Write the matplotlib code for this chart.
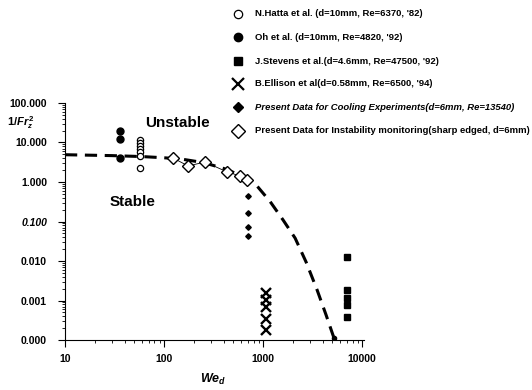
import numpy as np
import matplotlib
matplotlib.use('Agg')
import matplotlib.pyplot as plt
from matplotlib.ticker import FixedLocator, LogLocator, NullFormatter

plt.rcParams['font.family'] = ['Liberation Sans', 'DejaVu Sans']
plt.rcParams['mathtext.fontset'] = 'custom'
plt.rcParams['mathtext.rm'] = 'Liberation Sans:bold'
plt.rcParams['mathtext.it'] = 'Liberation Sans:bold:italic'
plt.rcParams['mathtext.bf'] = 'Liberation Sans:bold'

# N.Hatta et al. (open circles)
hatta_we = [57, 57, 57, 57, 57, 57, 57]
hatta_y = [11.5, 9.8, 8.2, 6.8, 5.6, 4.6, 2.3]

# Oh et al. (filled circles)
oh_we = [36, 36, 36]
oh_y = [19.5, 12.0, 4.1]

# J.Stevens et al. (filled squares)
stevens_we = [7050, 7050, 7050, 7050, 7050]
stevens_y = [0.0126, 0.0019, 0.00115, 0.00077, 0.00038]

# B.Ellison et al. (crosses)
ellison_we = [1070, 1070, 1070, 1070, 1070]
ellison_y = [0.00155, 0.00103, 0.00068, 0.00034, 0.00018]

# present data, cooling experiments (small filled diamonds)
cool_we = [705, 705, 705, 705, 430, 590, 690]
cool_y = [0.44, 0.165, 0.073, 0.043, 1.8, 1.45, 1.2]

# present data, instability monitoring (open diamonds)
inst_we = [123, 175, 259, 433, 586, 689]
inst_y = [4.05, 2.55, 3.2, 1.8, 1.42, 1.12]

# stability boundary (dashed curve)
curve_we = [10, 30, 60, 100, 150, 250, 400, 550, 689, 869, 1177, 1592, 2105, 2718, 3510, 4325, 5210]
curve_y = [4.9, 4.65, 4.4, 4.1, 3.8, 3.1, 2.2, 1.6, 1.26, 0.79, 0.32, 0.109, 0.038, 0.0094, 0.00185, 0.00043, 0.00011]

y_ticks = [100, 10, 1, 0.1, 0.01, 0.001, 0.0001]
y_labels = ['100.000', '10.000', '1.000', '0.100', '0.010', '0.001', '0.000']
x_ticks = [10, 100, 1000, 10000]
x_labels = ['10', '100', '1000', '10000']

legend_labels = [
    "N.Hatta et al. (d=10mm, Re=6370, '82)",
    "Oh et al. (d=10mm, Re=4820, '92)",
    "J.Stevens et al.(d=4.6mm, Re=47500, '92)",
    "B.Ellison et al(d=0.58mm, Re=6500, '94)",
    "Present Data for Cooling Experiments(d=6mm, Re=13540)",
    "Present Data for Instability monitoring(sharp edged, d=6mm)",
]

fig = plt.figure(figsize=(5.32, 3.90), dpi=100)
ax = fig.add_axes([0.1222, 0.128, 0.5625, 0.608])
ax.set_xscale('log')
ax.set_yscale('log')
ax.set_xlim(10, 10500)
ax.set_ylim(0.0001, 100)

ax.plot(curve_we, curve_y, ls=(0, (4, 2.5)), color='black', lw=2.2)
ax.plot(curve_we[-1], curve_y[-1], 'o', color='black', ms=3)
ax.plot(inst_we, inst_y, '-', color='black', lw=0.6)

ax.plot(hatta_we, hatta_y, 'o', mfc='white', mec='black', ms=4.5, mew=0.9, ls='none')
ax.plot(oh_we, oh_y, 'o', color='black', ms=5, ls='none')
ax.plot(stevens_we, stevens_y, 's', color='black', ms=4, ls='none')
ax.plot(ellison_we, ellison_y, 'x', color='black', ms=7, mew=1.7, ls='none')
ax.plot(cool_we, cool_y, 'D', color='black', ms=2.8, ls='none')
ax.plot(inst_we, inst_y, 'D', mfc='white', mec='black', ms=6, mew=1.0, ls='none')

for s in ['top', 'right']:
    ax.spines[s].set_visible(False)
for s in ['left', 'bottom']:
    ax.spines[s].set_linewidth(0.8)

ax.yaxis.set_major_locator(FixedLocator(y_ticks))
ax.set_yticklabels(y_labels)
for lbl in ax.get_yticklabels():
    lbl.set_fontweight('bold')
    lbl.set_fontsize(7.5)
    if lbl.get_text() == '0.100':
        lbl.set_fontstyle('italic')
ax.xaxis.set_major_locator(FixedLocator(x_ticks))
ax.set_xticklabels(x_labels, fontweight='bold', fontsize=7.5)
ax.xaxis.set_minor_locator(LogLocator(base=10, subs=np.arange(2, 10)))
ax.yaxis.set_minor_locator(LogLocator(base=10, subs=np.arange(2, 10)))
ax.xaxis.set_minor_formatter(NullFormatter())
ax.yaxis.set_minor_formatter(NullFormatter())
ax.tick_params(axis='y', which='major', length=5, width=0.8, pad=8)
ax.tick_params(axis='x', which='major', length=5, width=0.8, pad=5)
ax.tick_params(axis='both', which='minor', length=2.5, width=0.6)

ax.text(0.268, 0.90, 'Unstable', transform=ax.transAxes, fontsize=11, fontweight='bold')
ax.text(0.15, 0.565, 'Stable', transform=ax.transAxes, fontsize=11, fontweight='bold')

fig.text(0.013, 0.678, r'$1/Fr_z^2$', fontsize=8)
fig.text(0.375, 0.018, r'$We_d$', fontsize=9)

# legend drawn by hand, top right
leg_markers = [
    dict(marker='o', mfc='white', mec='black', ms=6, mew=0.9),
    dict(marker='o', mfc='black', mec='black', ms=6),
    dict(marker='s', mfc='black', mec='black', ms=6),
    dict(marker='x', mfc='black', mec='black', ms=8, mew=1.6),
    dict(marker='D', mfc='black', mec='black', ms=5),
    dict(marker='D', mfc='white', mec='black', ms=7, mew=1.0),
]
row_y = [14, 37, 61, 84, 107, 131]
for i, lab in enumerate(legend_labels):
    yf = 1 - row_y[i] / 390
    fig.add_artist(plt.Line2D([238 / 532], [yf], ls='none', transform=fig.transFigure, **leg_markers[i]))
    style = 'italic' if i == 4 else 'normal'
    fig.text(255 / 532, yf, lab, fontsize=6.8, fontweight='bold', fontstyle=style, va='center', ha='left')

fig.savefig('out.png', dpi=100)
